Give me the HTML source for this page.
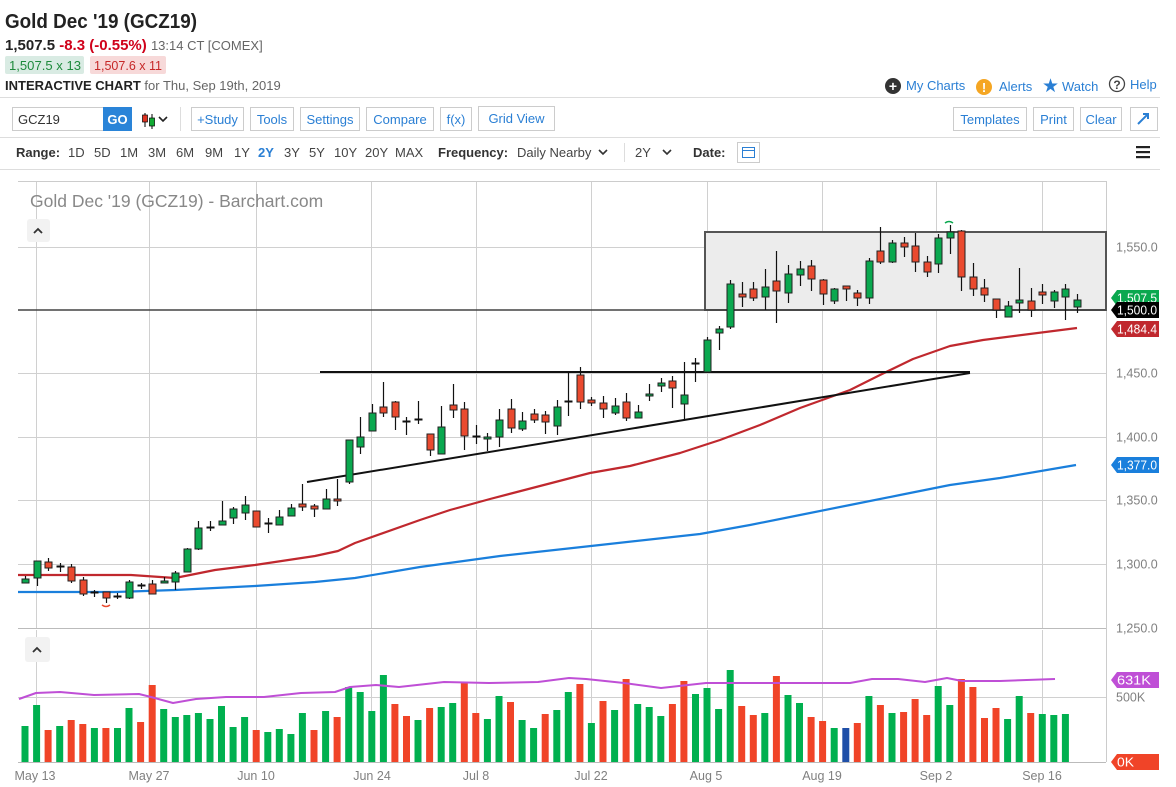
<!DOCTYPE html>
<html><head><meta charset="utf-8"><style>
html,body{margin:0;padding:0;background:#fff;width:1176px;height:787px;overflow:hidden}
svg{display:block;font-family:"Liberation Sans",sans-serif}
.btn{fill:#fff;stroke:#ccc;stroke-width:1}
.bt{fill:#2a7fd4;font-size:13px}
.ax{fill:#808080;font-size:12.5px}
.rg{fill:#444;font-size:13px}
</style></head><body>
<svg id="s" width="1176" height="787" viewBox="0 0 1176 787">
<text x="5" y="28" font-size="20" font-weight="bold" fill="#222" textLength="192" lengthAdjust="spacingAndGlyphs">Gold Dec '19 (GCZ19)</text>
<text x="5" y="50" font-size="15" font-weight="bold" fill="#222">1,507.5 <tspan fill="#d0021b">-8.3 (-0.55%)</tspan> <tspan font-weight="normal" font-size="13" fill="#666">13:14 CT [COMEX]</tspan></text>
<rect x="5" y="56" width="79" height="18" rx="2" fill="#d9ebe3"/>
<text x="9" y="70" font-size="13" fill="#1e8a3c" textLength="72" lengthAdjust="spacingAndGlyphs">1,507.5 x 13</text>
<rect x="90" y="56" width="76" height="18" rx="2" fill="#f7d9d9"/>
<text x="94" y="70" font-size="13" fill="#c62828" textLength="68" lengthAdjust="spacingAndGlyphs">1,507.6 x 11</text>
<text x="5" y="90" font-size="13" font-weight="bold" fill="#222">INTERACTIVE CHART <tspan font-weight="normal" fill="#666">for Thu, Sep 19th, 2019</tspan></text>
<circle cx="893" cy="86" r="8" fill="#333"/><text x="893" y="91" font-size="14" font-weight="bold" fill="#fff" text-anchor="middle">+</text>
<text x="906" y="90" class="bt">My Charts</text>
<circle cx="984" cy="87" r="8" fill="#f5a623"/><text x="984" y="92" font-size="13" font-weight="bold" fill="#fff" text-anchor="middle">!</text>
<text x="999" y="91" class="bt">Alerts</text>
<text x="1042" y="92" font-size="19" fill="#2a7fd4">★</text>
<text x="1062" y="91" class="bt">Watch</text>
<circle cx="1117" cy="84" r="7.5" fill="none" stroke="#444" stroke-width="1.3"/><text x="1117" y="89" font-size="12" font-weight="bold" fill="#444" text-anchor="middle">?</text>
<text x="1130" y="89" class="bt">Help</text>
<line x1="0" y1="97.5" x2="1160" y2="97.5" stroke="#ddd"/>
<rect x="12.5" y="107.5" width="91" height="23" fill="#fff" stroke="#ccc"/>
<text x="18" y="124" font-size="13" fill="#333">GCZ19</text>
<rect x="103" y="107" width="29" height="24" fill="#2a84d8"/>
<text x="117.5" y="124" font-size="13" font-weight="bold" fill="#fff" text-anchor="middle">GO</text>
<line x1="145" y1="113" x2="145" y2="127" stroke="#000"/><rect x="142.5" y="115" width="5" height="7" fill="#d32" stroke="#000" stroke-width=".7"/>
<line x1="152" y1="114" x2="152" y2="129" stroke="#000"/><rect x="149.5" y="118" width="5" height="8" fill="#1a3" stroke="#000" stroke-width=".7"/>
<path d="M159 117 l4 4 l4 -4" fill="none" stroke="#222" stroke-width="1.6"/>
<line x1="180.5" y1="107" x2="180.5" y2="131" stroke="#ddd"/>
<rect class="btn" x="191.5" y="107.5" width="52" height="23"/><text x="217.5" y="124" class="bt" text-anchor="middle">+Study</text>
<rect class="btn" x="250.5" y="107.5" width="43" height="23"/><text x="272" y="124" class="bt" text-anchor="middle">Tools</text>
<rect class="btn" x="300.5" y="107.5" width="59" height="23"/><text x="330" y="124" class="bt" text-anchor="middle">Settings</text>
<rect class="btn" x="366.5" y="107.5" width="67" height="23"/><text x="400" y="124" class="bt" text-anchor="middle">Compare</text>
<rect class="btn" x="440.5" y="107.5" width="31" height="23"/><text x="456" y="124" class="bt" text-anchor="middle">f(x)</text>
<rect class="btn" x="478.5" y="106.5" width="76" height="24"/><text x="516.5" y="123" class="bt" text-anchor="middle">Grid View</text>
<rect class="btn" x="953.5" y="107.5" width="73" height="23"/><text x="990" y="124" class="bt" text-anchor="middle">Templates</text>
<rect class="btn" x="1033.5" y="107.5" width="40" height="23"/><text x="1053.5" y="124" class="bt" text-anchor="middle">Print</text>
<rect class="btn" x="1080.5" y="107.5" width="41" height="23"/><text x="1101" y="124" class="bt" text-anchor="middle">Clear</text>
<rect class="btn" x="1130.5" y="107.5" width="27" height="23"/><path d="M1138 124 l10 -10 M1143 114 h5 v5" stroke="#2a7fd4" stroke-width="2" fill="none"/>
<line x1="0" y1="137.5" x2="1160" y2="137.5" stroke="#ddd"/>
<text x="16" y="157" font-size="13" font-weight="bold" fill="#333">Range:</text>
<g class="rg">
<text x="68" y="157" class="rg">1D</text><text x="94" y="157" class="rg">5D</text><text x="120" y="157" class="rg">1M</text><text x="148" y="157" class="rg">3M</text><text x="176" y="157" class="rg">6M</text><text x="205" y="157" class="rg">9M</text><text x="234" y="157" class="rg">1Y</text>
<text x="258" y="157" font-size="13" font-weight="bold" fill="#2a7fd4">2Y</text>
<text x="284" y="157" class="rg">3Y</text><text x="309" y="157" class="rg">5Y</text><text x="334" y="157" class="rg">10Y</text><text x="365" y="157" class="rg">20Y</text><text x="395" y="157" class="rg">MAX</text>
</g>
<text x="438" y="157" font-size="13" font-weight="bold" fill="#333">Frequency:</text>
<text x="517" y="157" class="rg">Daily Nearby</text>
<path d="M599 150 l4 4 l4 -4" fill="none" stroke="#333" stroke-width="1.6"/>
<line x1="624.5" y1="143" x2="624.5" y2="162" stroke="#ddd"/>
<text x="635" y="157" class="rg">2Y</text>
<path d="M663 150 l4 4 l4 -4" fill="none" stroke="#333" stroke-width="1.6"/>
<text x="693" y="157" font-size="13" font-weight="bold" fill="#333">Date:</text>
<rect x="737.5" y="142.5" width="22" height="20" fill="#fff" stroke="#ccc"/>
<rect x="742.5" y="147.5" width="12" height="10" fill="none" stroke="#2a7fd4"/><line x1="742" y1="150.5" x2="755" y2="150.5" stroke="#2a7fd4"/>
<rect x="1136" y="146" width="14" height="2.2" fill="#222"/><rect x="1136" y="151" width="14" height="2.2" fill="#222"/><rect x="1136" y="156" width="14" height="2.2" fill="#222"/>
<line x1="0" y1="169.5" x2="1160" y2="169.5" stroke="#ddd"/>
<g id="grid" stroke="#d0d0d0" stroke-width="1"></g>
<line x1="18" y1="181.5" x2="1106" y2="181.5" stroke="#ccc"/>
<line x1="1106.5" y1="181" x2="1106.5" y2="762" stroke="#ccc"/>
<line x1="18" y1="628.5" x2="1106" y2="628.5" stroke="#bbb"/>
<line x1="18" y1="762.5" x2="1106" y2="762.5" stroke="#bbb"/>
<text x="30" y="207" font-size="17.5" fill="#888">Gold Dec '19 (GCZ19) - Barchart.com</text>
<rect x="27" y="219" width="23" height="23" rx="3" fill="#f2f2f2"/><path d="M34 233 l4 -4 l4 4" fill="none" stroke="#333" stroke-width="1.8"/>
<rect x="25" y="637" width="25" height="25" rx="3" fill="#f2f2f2"/><path d="M33 652 l4 -4 l4 4" fill="none" stroke="#333" stroke-width="1.8"/>
<rect x="705" y="232" width="401" height="78" fill="#ececec" stroke="#555" stroke-width="2"/>
<line x1="18" y1="310" x2="1106" y2="310" stroke="#444" stroke-width="1.6"/>
<g id="ma"></g>
<line x1="320" y1="372" x2="970" y2="372" stroke="#111" stroke-width="2"/>
<line x1="307" y1="482" x2="970" y2="373" stroke="#111" stroke-width="2"/>
<g id="cd"></g>
<g id="vol"></g>
<g id="lab"></g>
</svg>
<script>
var NS="http://www.w3.org/2000/svg";
function el(p,t,a,txt){var e=document.createElementNS(NS,t);for(var k in a)e.setAttribute(k,a[k]);if(txt!=null)e.textContent=txt;document.getElementById(p).appendChild(e);return e;}
var gx=[36,149,256,371,476,591,707,822,936,1042];
gx.forEach(function(x){el('grid','line',{x1:x+.5,y1:182,x2:x+.5,y2:628});el('grid','line',{x1:x+.5,y1:630,x2:x+.5,y2:762});});
[247,373,437,500,564].forEach(function(y){el('grid','line',{x1:18,y1:y+.5,x2:1106,y2:y+.5});});
el('grid','line',{x1:18,y1:697.5,x2:1106,y2:697.5});
function pl(pts,c,w,p){el(p||'ma','polyline',{points:pts.map(function(q){return q.join(',')}).join(' '),fill:'none',stroke:c,'stroke-width':w,'stroke-linejoin':'round'});}
pl([[18,592],[115,592],[175,590],[255,586],[315,582],[355,578],[420,567],[500,556],[600,545],[700,534],[750,525],[800,515],[850,505],[900,495],[950,485],[1000,478],[1076,465]],'#1a7fdc',2.2);
pl([[18,575],[131,575],[175,578],[215,570],[255,565],[315,556],[338,551],[355,543],[420,520],[450,510],[490,499],[590,473],[630,466],[680,453],[720,440],[760,425],[800,408],[850,390],[880,375],[913,359],[950,346],[983,340],[1077,328]],'#c0282e',2.2);
var C=[[579,583,576,583,'g'],[561,578,561,586,'g'],[562,568,558,571,'r'],[566,566,563,572,'d'],[567,581,564,583,'r'],[580,594,577,596,'r'],[592,592,590,597,'d'],[592,598,592,603,'r'],[596,596,593,599,'d'],[582,598,580,599,'g'],
[585,585,583,589,'d'],[584,594,580,594,'r'],[581,583,577,583,'g'],[573,582,571,590,'g'],[549,572,548,572,'g'],[528,549,521,550,'g'],[527,527,521,531,'d'],[521,525,501,525,'g'],[509,518,507,524,'g'],[505,513,496,520,'g'],
[511,527,511,527,'r'],[523,523,518,533,'d'],[517,525,510,525,'g'],[508,516,504,516,'g'],[504,507,484,511,'r'],[506,509,504,517,'r'],[499,509,489,509,'g'],[499,501,479,506,'r'],[440,482,440,484,'g'],[437,447,417,454,'g'],
[413,431,404,431,'g'],[407,413,382,417,'r'],[402,417,401,430,'r'],[421,421,417,435,'d'],[419,419,401,424,'d'],[434,450,434,456,'r'],[427,454,406,454,'g'],[405,410,384,418,'r'],[409,436,402,450,'r'],[436,436,425,444,'d'],
[437,439,433,451,'g'],[420,437,409,447,'g'],[409,428,399,433,'r'],[421,429,412,431,'g'],[414,420,409,423,'r'],[415,422,411,434,'r'],[407,426,400,435,'g'],[401,401,373,416,'d'],[375,402,367,409,'r'],[400,403,397,406,'r'],
[403,409,396,418,'r'],[406,413,398,415,'g'],[402,418,393,421,'r'],[412,418,405,418,'g'],[394,396,384,401,'g'],[383,386,378,392,'g'],[381,388,376,408,'r'],[395,404,362,419,'g'],[363,363,358,382,'d'],[340,372,337,372,'g'],
[329,333,326,350,'g'],[284,327,280,329,'g'],[294,297,282,307,'r'],[289,298,282,301,'r'],[287,297,269,310,'g'],[281,291,251,323,'r'],[274,293,265,303,'g'],[269,275,261,286,'g'],[266,279,260,291,'r'],[280,294,279,305,'r'],
[289,301,288,304,'g'],[286,289,286,301,'r'],[293,298,290,306,'r'],[261,298,258,304,'g'],[251,262,227,264,'r'],[243,262,240,263,'g'],[243,247,237,257,'r'],[246,262,233,272,'r'],[262,272,256,277,'r'],[238,264,234,273,'g'],
[232,238,225,254,'g'],[231,277,230,291,'r'],[277,289,263,296,'r'],[288,295,279,302,'r'],[299,310,299,318,'r'],[306,317,301,317,'g'],[300,303,268,313,'g'],[301,310,288,317,'r'],[292,295,284,304,'r'],[292,301,290,308,'g'],
[289,297,284,320,'g'],[300,307,294,313,'g']];
var col={g:'#0aa84f',r:'#ea4a2f'};
C.forEach(function(c,i){var x=Math.round(25+11.56*i)+.5;
 el('cd','line',{x1:x,y1:c[2],x2:x,y2:c[3],stroke:'#111','stroke-width':1.2});
 if(c[4]=='d'){el('cd','line',{x1:x-4,y1:c[0]+.5,x2:x+4,y2:c[0]+.5,stroke:'#111','stroke-width':2});}
 else el('cd','rect',{x:x-3.5,y:c[0],width:7,height:Math.max(2,c[1]-c[0]),fill:col[c[4]],stroke:'#222','stroke-width':1});
});
el('cd','path',{d:'M102 605 q4 3 8 0',stroke:'#ea4a2f',fill:'none','stroke-width':1.5});
el('cd','path',{d:'M945 223 q4 -3 8 0',stroke:'#0aa84f',fill:'none','stroke-width':1.5});
var V=[[726,'g'],[705,'g'],[730,'r'],[726,'g'],[720,'r'],[724,'r'],[728,'g'],[728,'r'],[728,'g'],[708,'g'],[722,'r'],[685,'r'],[709,'g'],[717,'g'],[715,'g'],[713,'g'],[719,'g'],[706,'g'],[727,'g'],[717,'g'],
[730,'r'],[732,'g'],[729,'g'],[734,'g'],[713,'g'],[730,'r'],[711,'g'],[717,'r'],[687,'g'],[692,'g'],[711,'g'],[675,'g'],[704,'r'],[716,'r'],[720,'g'],[708,'r'],[707,'g'],[703,'g'],[682,'r'],[713,'r'],
[719,'g'],[696,'g'],[702,'r'],[720,'g'],[728,'g'],[714,'r'],[710,'g'],[692,'g'],[684,'r'],[723,'g'],[701,'r'],[710,'g'],[679,'r'],[704,'g'],[707,'g'],[716,'g'],[704,'r'],[681,'r'],[694,'g'],[688,'g'],
[709,'g'],[670,'g'],[706,'r'],[715,'r'],[713,'g'],[676,'r'],[695,'g'],[703,'g'],[717,'r'],[721,'r'],[728,'g'],[728,'b'],[723,'r'],[696,'g'],[705,'r'],[713,'g'],[712,'r'],[699,'r'],[715,'r'],[686,'g'],
[705,'g'],[679,'r'],[687,'r'],[718,'r'],[708,'r'],[719,'g'],[696,'g'],[713,'r'],[714,'g'],[715,'g'],[714,'g']];
var vc={g:'#00b04f',r:'#f04428',b:'#1f4fa8'};
V.forEach(function(v,i){var x=25+11.56*i;el('vol','rect',{x:(x-3.5).toFixed(1),y:v[0],width:7,height:762-v[0],fill:vc[v[1]]});});
pl([[19,699],[36,693],[60,692],[94,695],[139,694],[151,697],[173,703],[196,699],[226,697],[264,697],[301,693],[335,692],[350,687],[376,685],[399,687],[444,682],[489,683],[538,682],[569,678],[586,679],[624,683],[661,688],[706,683],[774,683],[850,683],[872,679],[898,679],[925,682],[947,678],[962,681],[1000,681],[1055,679]],'#bf4fd6',2,'vol');
[[247,'1,550.0'],[373,'1,450.0'],[437,'1,400.0'],[500,'1,350.0'],[564,'1,300.0'],[628,'1,250.0']].forEach(function(a){el('lab','text',{x:1116,y:a[0]+4.5,'class':'ax'},a[1]);});
el('lab','text',{x:1116,y:701.5,'class':'ax'},'500K');
function tag(y,bg,t){el('lab','path',{d:'M1111 '+y+' l6 -8 h42 v16 h-42 z',fill:bg});el('lab','text',{x:1117,y:y+4.5,fill:'#fff','font-size':13,textLength:(t.length>4?40:t.length*8.5),lengthAdjust:'spacingAndGlyphs'},t);}
tag(298,'#0aa84f','1,507.5');tag(310,'#000','1,500.0');tag(329,'#c0282e','1,484.4');tag(465,'#1a7fdc','1,377.0');
tag(680,'#bf4fd6','631K');tag(762,'#f04428','0K');
[['May 13',35],['May 27',149],['Jun 10',256],['Jun 24',372],['Jul 8',476],['Jul 22',591],['Aug 5',706],['Aug 19',822],['Sep 2',936],['Sep 16',1042]].forEach(function(a){el('lab','text',{x:a[1],y:780,'class':'ax','text-anchor':'middle'},a[0]);});
</script>
</body></html>
